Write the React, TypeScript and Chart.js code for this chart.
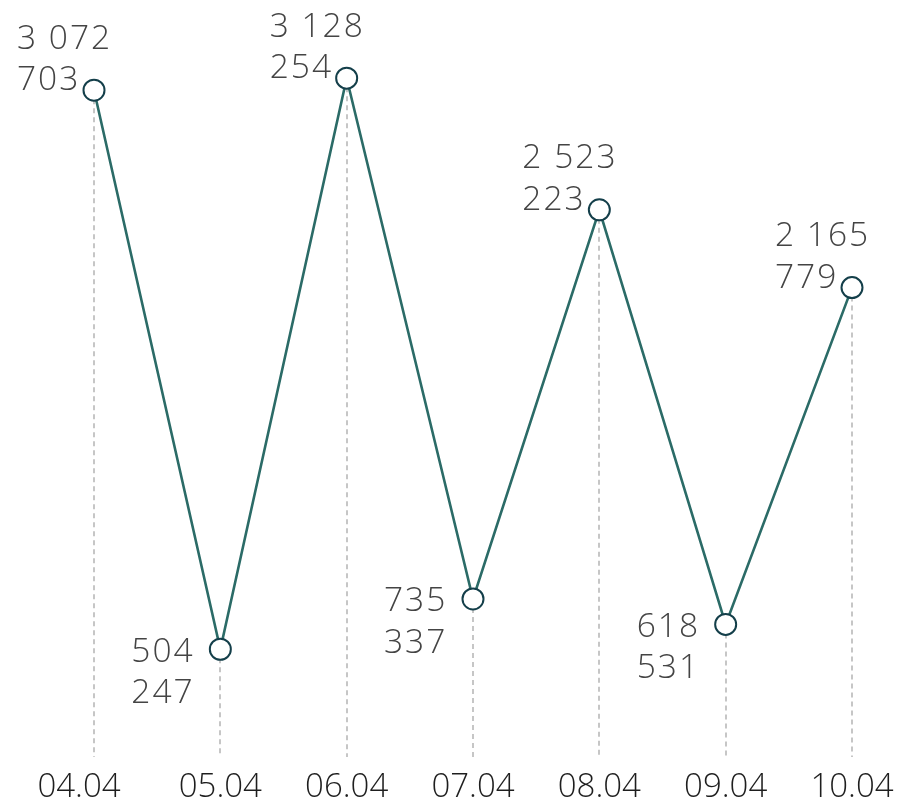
import React, { useEffect, useRef } from "react";
import { Chart, registerables } from "chart.js";

Chart.register(...registerables);

const categories = ["04.04", "05.04", "06.04", "07.04", "08.04", "09.04", "10.04"];
const values = [3072703, 504247, 3128254, 735337, 2523223, 618531, 2165779];
const yMin = 0;
const yMax = 3400000;

const FONT = '"Open Sans", "Noto Sans", sans-serif';

function formatValue(v: number): string[] {
  const s = String(v).replace(/\B(?=(\d{3})+(?!\d))/g, " ");
  const i = s.lastIndexOf(" ");
  if (i < 0) return [s];
  return [s.slice(0, i), s.slice(i + 1)];
}

const dropLines = {
  id: "dropLines",
  beforeDatasetsDraw(chart: any) {
    const { ctx, chartArea } = chart;
    const meta = chart.getDatasetMeta(0);
    ctx.save();
    ctx.strokeStyle = "#c6c6c6";
    ctx.lineWidth = 2;
    ctx.setLineDash([5, 4]);
    meta.data.forEach((pt: any) => {
      ctx.beginPath();
      ctx.moveTo(Math.round(pt.x), pt.y);
      ctx.lineTo(Math.round(pt.x), chartArea.bottom - 2);
      ctx.stroke();
    });
    ctx.restore();
  },
};

const valueLabels = {
  id: "valueLabels",
  afterDatasetsDraw(chart: any) {
    const { ctx } = chart;
    const meta = chart.getDatasetMeta(0);
    const data = chart.data.datasets[0].data as number[];
    ctx.save();
    ctx.font = `300 33.5px ${FONT}`;
    ctx.fillStyle = "#444444";
    ctx.textAlign = "left";
    ctx.textBaseline = "alphabetic";
    try { (ctx as any).letterSpacing = "2px"; } catch (e) {}
    meta.data.forEach((pt: any, i: number) => {
      const v = data[i];
      const prev = i > 0 ? data[i - 1] : -Infinity;
      const next = i < data.length - 1 ? data[i + 1] : -Infinity;
      const peak = v >= prev && v >= next;
      const lines = formatValue(v);
      const lh = 41.5;
      if (peak) {
        const x = pt.x - 77;
        const baseY = pt.y - lh * (lines.length - 1);
        lines.forEach((l, k) => ctx.fillText(l, x, baseY + k * lh));
      } else {
        const x = pt.x - 89;
        const baseY = pt.y + 12.5;
        lines.forEach((l, k) => ctx.fillText(l, x, baseY + k * lh));
      }
    });
    ctx.restore();
  },
};

const xLabels = {
  id: "xLabels",
  afterDraw(chart: any) {
    const { ctx } = chart;
    const scale = chart.scales.x;
    ctx.save();
    ctx.font = `300 33px ${FONT}`;
    ctx.fillStyle = "#1e1e1e";
    ctx.textAlign = "center";
    ctx.textBaseline = "alphabetic";
    (chart.data.labels as string[]).forEach((lab, i) => {
      let x = scale.getPixelForTick(i);
      if (i === 0) x -= 15;
      ctx.fillText(lab, x, 797);
    });
    ctx.restore();
  },
};

export default function App() {
  const ref = useRef<HTMLCanvasElement | null>(null);
  useEffect(() => {
    if (!ref.current) return;
    const chart = new Chart(ref.current, {
      type: "line",
      data: {
        labels: categories,
        datasets: [
          {
            data: values,
            borderColor: "#2b6b67",
            borderWidth: 2.6,
            pointRadius: 10.5,
            pointHoverRadius: 10.5,
            pointBackgroundColor: "#ffffff",
            pointBorderColor: "#143f4a",
            pointBorderWidth: 2,
            tension: 0,
          },
        ],
      },
      options: {
        animation: false,
        responsive: false,
        maintainAspectRatio: false,
        layout: { padding: { top: 19, left: 94, right: 52, bottom: 0 } },
        plugins: { legend: { display: false }, tooltip: { enabled: false } },
        scales: {
          x: {
            offset: false,
            grid: { display: false, drawTicks: false },
            border: { display: false },
            ticks: { display: false, autoSkip: false, maxRotation: 0 },
            afterFit(scale: any) {
              scale.height = 42;
            },
          },
          y: {
            display: false,
            min: yMin,
            max: yMax,
          },
        },
      },
      plugins: [dropLines, valueLabels, xLabels],
    });
    return () => chart.destroy();
  }, []);
  return (
    <div style={{ position: "fixed", left: 0, top: 0, width: 904, height: 801, background: "#fff" }}>
      <canvas ref={ref} width={904} height={801} style={{ width: 904, height: 801, display: "block" }} />
    </div>
  );
}
